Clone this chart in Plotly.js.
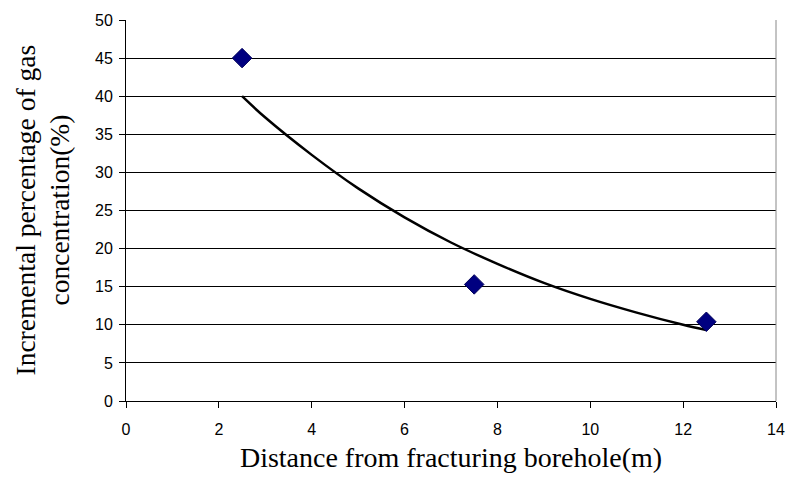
<!DOCTYPE html>
<html>
<head>
<meta charset="utf-8">
<script src="https://cdn.plot.ly/plotly-3.0.1.min.js"></script>
<style>html,body{margin:0;padding:0;background:#fff;}#chart{width:786px;height:479px;}</style>
</head>
<body>
<div id="chart"></div>
<script>
// Measured points
const distance = [2.5, 7.5, 12.5];
const increment = [45, 15.3, 10.4];
// Trend curve
const trendX = [2.5, 3, 4, 5, 6, 7, 8, 9, 10, 11, 12, 12.5];
const trendY = [40, 37.2, 32.3, 27.9, 24.1, 20.8, 18.0, 15.5, 13.4, 11.6, 10.0, 9.3];
const xTicks = [0, 2, 4, 6, 8, 10, 12, 14];
const yTicks = [0, 5, 10, 15, 20, 25, 30, 35, 40, 45, 50];
const xTitle = 'Distance from fracturing borehole(m)';
const yTitleLines = ['Incremental percentage of gas', 'concentration(%)'];

const W = 786, H = 479, ML = 126, MR = 10, MT = 20, MB = 78;
const plotW = W - ML - MR;

const traces = [
  {x: trendX, y: trendY, mode: 'lines', line: {color: '#000', width: 2.5, shape: 'spline'}, hoverinfo: 'skip'},
  {x: distance, y: increment, mode: 'markers',
   marker: {symbol: 'diamond', size: 15, color: '#000080', line: {color: '#00005a', width: 1}}}
];

const serif = 'Liberation Serif, Times New Roman, serif';
const layout = {
  width: W, height: H,
  margin: {l: ML, r: MR, t: MT, b: MB},
  paper_bgcolor: '#fff', plot_bgcolor: '#fff',
  showlegend: false,
  font: {family: 'Liberation Sans, Arial, sans-serif', size: 16, color: '#000'},
  xaxis: {
    range: [0, 14], tickvals: xTicks, ticktext: xTicks.map(String),
    showgrid: false, zeroline: false,
    showline: true, linecolor: '#000', linewidth: 1,
    ticks: 'outside', ticklen: 6, tickcolor: '#000',
    ticklabelstandoff: 8,
    tickfont: {family: 'Liberation Sans, Arial, sans-serif', size: 16},
    title: {text: xTitle, font: {family: serif, size: 28}, standoff: 10}
  },
  yaxis: {
    range: [0, 50], tickvals: yTicks, ticktext: yTicks.map(String),
    showgrid: true, gridcolor: '#000', gridwidth: 1, zeroline: false,
    showline: true, linecolor: '#000', linewidth: 1,
    ticks: 'outside', ticklen: 6, tickcolor: '#000',
    ticklabelstandoff: 3,
    tickfont: {family: 'Liberation Sans, Arial, sans-serif', size: 16}
  },
  annotations: yTitleLines.map((t, i) => ({
    text: t, textangle: -90, showarrow: false,
    xref: 'paper', yref: 'paper',
    x: ([25, 59][i] - ML) / plotW, y: 0.5,
    xanchor: 'center', yanchor: 'middle',
    font: {family: serif, size: 27.5, color: '#000'}
  })),
  shapes: [
    {type: 'line', xref: 'paper', yref: 'paper', x0: 1, x1: 1, y0: 0, y1: 1, line: {color: '#888', width: 1}}
  ]
};

Plotly.newPlot('chart', traces, layout, {displayModeBar: false, staticPlot: true});
</script>
</body>
</html>
